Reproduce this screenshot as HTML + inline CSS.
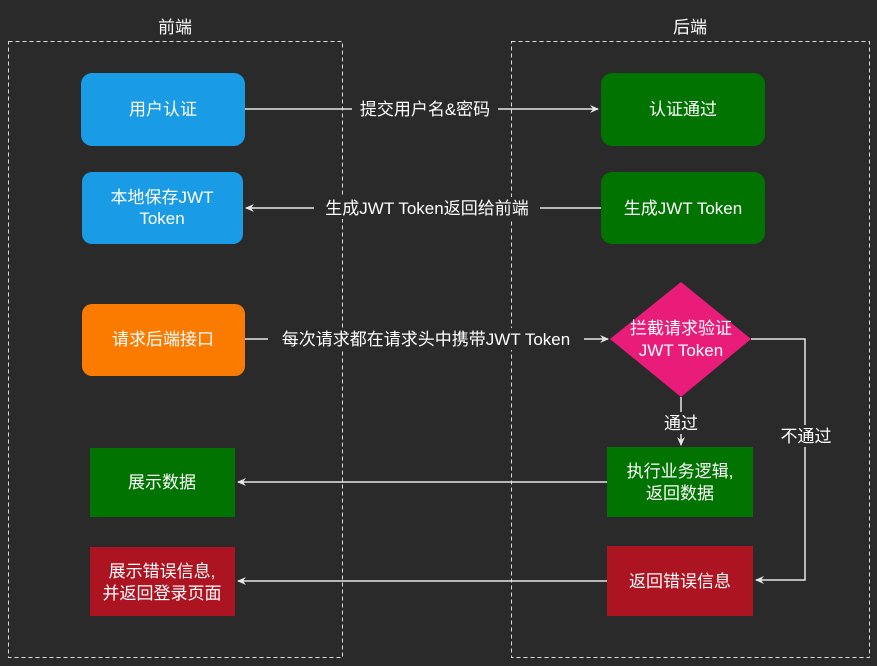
<!DOCTYPE html>
<html><head><meta charset="utf-8"><style>
html,body{margin:0;padding:0;background:#2a2a2a;}
svg{display:block;}
text{font-family:"Liberation Sans","Noto Sans CJK SC",sans-serif;fill:#fff;font-size:17px;}
</style></head><body>
<svg width="877" height="666" viewBox="0 0 877 666" xmlns="http://www.w3.org/2000/svg">
<defs><marker id="a" markerWidth="10" markerHeight="10" refX="8" refY="5" orient="auto" markerUnits="userSpaceOnUse"><path d="M0,1 L9,5 L0,9 L3,5 Z" fill="#e6e6e6"/></marker></defs>
<rect width="877" height="666" fill="#2a2a2a"/>
<rect x="8.5" y="41.5" width="334" height="616" fill="none" stroke="#ddd" stroke-dasharray="4,3"/>
<rect x="511.5" y="41.5" width="358" height="616" fill="none" stroke="#ddd" stroke-dasharray="4,3"/>
<text x="175" y="33" text-anchor="middle" fill="#ddd">前端</text>
<text x="690" y="33" text-anchor="middle" fill="#ddd">后端</text>
<g stroke="#e6e6e6" stroke-width="1.5" fill="none">
<line x1="245" y1="109" x2="598" y2="109" marker-end="url(#a)"/>
<line x1="601" y1="208" x2="246" y2="208" marker-end="url(#a)"/>
<line x1="245" y1="339" x2="608" y2="339" marker-end="url(#a)"/>
<polyline points="751,339 805,339 805,580 756,580" marker-end="url(#a)"/>
<line x1="681" y1="397" x2="681" y2="445" marker-end="url(#a)"/>
<line x1="607" y1="482" x2="238" y2="482" marker-end="url(#a)"/>
<line x1="607" y1="581" x2="238" y2="581" marker-end="url(#a)"/>
</g>
<rect x="352" y="98" width="146" height="22" fill="#2a2a2a"/>
<text x="425" y="115" text-anchor="middle">提交用户名&amp;密码</text>
<rect x="314" y="197" width="226" height="22" fill="#2a2a2a"/>
<text x="427" y="214" text-anchor="middle">生成JWT Token返回给前端</text>
<rect x="268" y="328" width="316" height="22" fill="#2a2a2a"/>
<text x="426" y="345" text-anchor="middle">每次请求都在请求头中携带JWT Token</text>
<rect x="660" y="412" width="42" height="22" fill="#2a2a2a"/>
<text x="681" y="429" text-anchor="middle">通过</text>
<rect x="778" y="425" width="56" height="22" fill="#2a2a2a"/>
<text x="806" y="442" text-anchor="middle">不通过</text>
<rect x="81" y="73" width="164" height="73" rx="11" fill="#1a9be6"/>
<text x="163" y="115" text-anchor="middle">用户认证</text>
<rect x="82" y="172" width="161" height="72" rx="10" fill="#1a9be6"/>
<text x="162" y="203" text-anchor="middle">本地保存JWT</text>
<text x="162" y="224" text-anchor="middle">Token</text>
<rect x="82" y="304" width="163" height="72" rx="10" fill="#fb7b00"/>
<text x="163" y="345" text-anchor="middle">请求后端接口</text>
<rect x="90" y="448" width="145" height="69" fill="#007300"/>
<text x="162" y="488" text-anchor="middle">展示数据</text>
<rect x="90" y="547" width="145" height="69" fill="#ad1422"/>
<text x="162" y="577" text-anchor="middle">展示错误信息,</text>
<text x="162" y="599" text-anchor="middle">并返回登录页面</text>
<rect x="601" y="73" width="164" height="73" rx="11" fill="#007300"/>
<text x="683" y="115" text-anchor="middle">认证通过</text>
<rect x="601" y="172" width="164" height="72" rx="11" fill="#007300"/>
<text x="683" y="214" text-anchor="middle">生成JWT Token</text>
<polygon points="681,282 751,339 681,397 610,339" fill="#e91c79"/>
<text x="681" y="334" text-anchor="middle">拦截请求验证</text>
<text x="681" y="356" text-anchor="middle">JWT Token</text>
<rect x="607" y="447" width="146" height="70" fill="#007300"/>
<text x="680" y="477" text-anchor="middle">执行业务逻辑,</text>
<text x="680" y="499" text-anchor="middle">返回数据</text>
<rect x="607" y="546" width="146" height="70" fill="#ad1422"/>
<text x="680" y="587" text-anchor="middle">返回错误信息</text>
</svg>
</body></html>
